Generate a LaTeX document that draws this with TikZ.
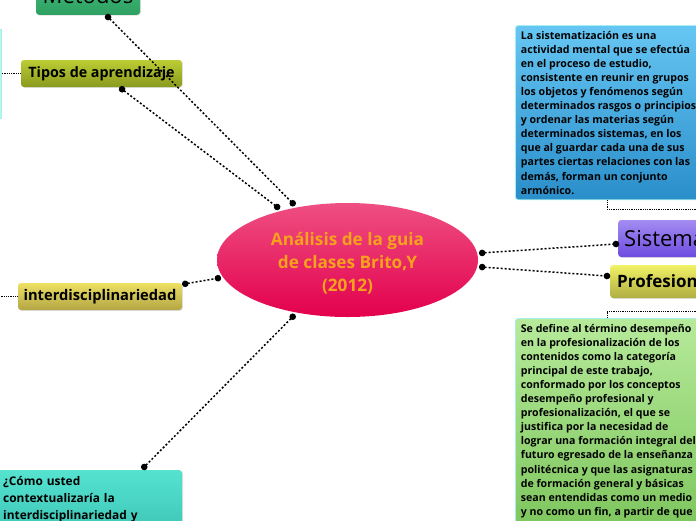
\documentclass[tikz,border=0pt]{standalone}
\usepackage{fontspec}
\setmainfont{Open Sans}
\usepackage{xcolor}
\usetikzlibrary{positioning, arrows.meta, shapes.geometric, shadows}

\definecolor{rosetop}{HTML}{EE4F82}
\definecolor{rosebot}{HTML}{E3004D}
\definecolor{titleorange}{HTML}{F6A21C}
\definecolor{greentop}{HTML}{44C47E}
\definecolor{greenbot}{HTML}{2E9F62}
\definecolor{olivetop}{HTML}{BCCD34}
\definecolor{olivebot}{HTML}{8A9A1E}
\definecolor{sandtop}{HTML}{EDE062}
\definecolor{sandbot}{HTML}{B3A645}
\definecolor{tealtop}{HTML}{55E3D0}
\definecolor{tealbot}{HTML}{36BCAE}
\definecolor{skytop}{HTML}{66C6F3}
\definecolor{skybot}{HTML}{2A8ECA}
\definecolor{violettop}{HTML}{A38CF2}
\definecolor{violetbot}{HTML}{6C4CE0}
\definecolor{limetop}{HTML}{F1F265}
\definecolor{limebot}{HTML}{AFAE42}
\definecolor{leaftop}{HTML}{B6EA9A}
\definecolor{leafbot}{HTML}{78C257}
\definecolor{paleedge}{HTML}{A6F0EE}

\begin{document}
\begin{tikzpicture}[x=1pt, y=-1pt, >=Stealth]
    \tikzset{
        topicbox/.style={
            rounded corners=3pt, inner sep=0pt, text=black,
            drop shadow={shadow xshift=0.8pt, shadow yshift=-0.8pt, opacity=0.25}
        },
        notebox/.style={
            rounded corners=3pt, inner sep=5.5pt, align=left, text=black,
            draw=paleedge, line width=0.8pt,
            font=\bfseries\fontsize{10.6}{14.1}\selectfont
        },
        maintext/.style={
            text=titleorange, align=center, yshift=-3.5pt,
            font=\bfseries\fontsize{17.2}{23}\selectfont
        },
        link/.style={
            line width=1.5pt, dash pattern=on 2pt off 2pt,
            {Circle[length=6.5pt]}-{Circle[length=6.5pt]},
            shorten <=-3.2pt, shorten >=-3.2pt
        },
        sidelink/.style={line width=0.8pt, dash pattern=on 1pt off 0.8pt}
    }

    \useasboundingbox (0,0) rectangle (696,520);
    \clip (0,0) rectangle (696,520);

    % central idea
    \node[ellipse, minimum width=261pt, minimum height=114pt, inner sep=0pt, outer sep=5pt,
          top color=rosetop, bottom color=rosebot,
          label={[maintext]center:{Análisis de la guia\\de clases Brito,Y\\(2012)}}] (main) at (347.5,260) {};

    % left branches
    \node[topicbox, top color=greentop, bottom color=greenbot, minimum width=104pt,
          minimum height=40pt, anchor=south, font=\fontsize{22}{26}\selectfont] (metodos) at (88,15) {Métodos};
    \node[topicbox, top color=olivetop, bottom color=olivebot, minimum width=161pt,
          minimum height=27pt, font=\bfseries\fontsize{14.3}{16}\selectfont] (tipos) at (101.5,73.5) {Tipos de aprendizaje};
    \node[fill=tealtop!40, draw=paleedge, minimum width=80pt, minimum height=89pt,
          anchor=east] (tiposnote) at (1.2,73.5) {};
    \node[topicbox, top color=sandtop, bottom color=sandbot, minimum width=164pt,
          minimum height=27pt, font=\bfseries\fontsize{14.7}{16}\selectfont] (interd) at (100,296.5) {interdisciplinariedad};
    \coordinate (interdleft) at (-20,296.5);
    \node[topicbox, top color=tealtop, bottom color=tealbot, text width=172pt,
          inner xsep=7pt, inner ysep=6pt, anchor=north west, align=left,
          text depth=60pt, font=\bfseries\fontsize{11.9}{17}\selectfont] (ctx) at (-4,470)
          {¿Cómo usted\\contextualizaría la\\interdisciplinariedad y};

    % right branches
    \node[topicbox, top color=violettop, bottom color=violetbot, minimum width=130pt,
          minimum height=37pt, inner xsep=6pt, anchor=west, font=\fontsize{22}{26}\selectfont] (sis) at (618,238.5) {Sistematización};
    \node[topicbox, top color=limetop, bottom color=limebot, minimum width=140pt,
          minimum height=33pt, inner xsep=7pt, anchor=west, font=\bfseries\fontsize{17}{20}\selectfont] (prof) at (610,281.5) {Profesionalización};

    \node[notebox, top color=skytop, bottom color=skybot, anchor=north west] (sisnote) at (515,25)
        {La sistematización es una\\actividad mental que se efectúa\\en el proceso de estudio,\\consistente en reunir en grupos\\los objetos y fenómenos según\\determinados rasgos o principios\\y ordenar las materias según\\determinados sistemas, en los\\que al guardar cada una de sus\\partes ciertas relaciones con las\\demás, forman un conjunto\\armónico.};
    \node[notebox, top color=leaftop, bottom color=leafbot, anchor=north west, text depth=30pt] (profnote) at (515,318)
        {Se define al término desempeño\\en la profesionalización de los\\contenidos como la categoría\\principal de este trabajo,\\conformado por los conceptos\\desempeño profesional y\\profesionalización, el que se\\justifica por la necesidad de\\lograr una formación integral del\\futuro egresado de la enseñanza\\politécnica y que las asignaturas\\de formación general y básicas\\sean entendidas como un medio\\y no como un fin, a partir de que};
    \coordinate (sisright) at (720,209);
    \coordinate (profright) at (720,311);

    % connectors
    \draw[link] ([xshift=20pt, yshift=-2pt]metodos.south) -- (main.134);
    \draw[link] ([xshift=20.5pt, yshift=-2pt]tipos.south) -- (main.143);
    \draw[link] ([xshift=3pt, yshift=-1pt]interd.north east) -- (main.188);
    \draw[link] ([xshift=55pt, yshift=3pt]ctx.north) -- (main.226);
    \draw[link] (main.3.4) -- ([xshift=-2pt, yshift=-5.5pt]sis.west);
    \draw[link] (main.-3.4) -- ([xshift=-3pt, yshift=5.5pt]prof.west);

    \draw[sidelink] (tipos.west) -- (tiposnote.east);
    \draw[sidelink] (interd.west) -- (interdleft);
    \draw[sidelink] ([xshift=92pt]sisnote.south west) |- (sisright);
    \draw[sidelink] ([xshift=92pt]profnote.north west) |- (profright);

\end{tikzpicture}
\end{document}
